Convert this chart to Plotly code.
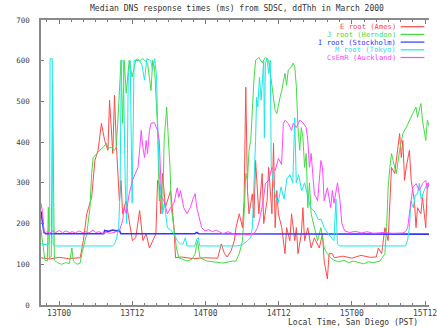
import pandas as pd
import plotly.graph_objects as go

# ---- data (hours after 2000-03-13 00:00 PST, median response ms) ----
e_hours = [-2.97, -1.5, 0.0, 1.5, 3.45, 3.98, 4.53, 5.33, 5.86, 6.39, 6.94, 7.47, 8.00, 8.27, 8.80, 9.08,
           9.35, 9.61, 9.88, 10.15, 10.41, 10.96, 11.49, 12.02, 12.56, 13.20, 13.73, 14.27, 14.81, 15.34,
           15.87, 16.14, 16.42, 16.67, 16.95, 17.43, 18.28, 18.83, 19.08, 20.0, 22.0, 24.0, 26.0, 26.59,
           27.12, 27.55, 28.19, 28.72, 29.00, 29.53, 30.07, 30.33, 30.60, 30.88, 31.13, 31.68, 31.94,
           32.21, 32.48, 32.74, 33.29, 33.54, 34.09, 34.35, 34.89, 35.15, 35.42, 35.69, 35.95, 36.50,
           37.03, 37.30, 37.83, 38.11, 38.63, 38.90, 39.16, 39.71, 39.97, 40.24, 40.77, 41.32, 41.85,
           42.65, 43.18, 43.45, 43.98, 44.26, 44.79, 45.11, 46.5, 48.0, 49.5, 51.0, 52.0, 52.34, 52.88,
           53.41, 53.94, 54.22, 54.49, 55.02, 55.29, 55.82, 56.10, 56.35, 56.63, 56.90, 57.43, 57.72,
           58.25, 58.51, 58.76, 59.31, 59.57, 60.11, 60.37, 60.64]
e_values = [116, 113, 117, 114, 116, 158, 224, 264, 355, 380, 446, 404, 380, 503, 372, 515,
            404, 338, 256, 306, 224, 256, 207, 158, 165, 232, 158, 175, 140, 158,
            175, 306, 298, 224, 323, 240, 281, 190, 116, 118, 114, 116, 115, 150,
            126, 118, 133, 158, 190, 224, 190, 256, 535, 281, 224, 273, 214,
            355, 288, 224, 323, 200, 256, 338, 224, 397, 190, 281, 224, 190,
            126, 190, 158, 224, 158, 190, 126, 175, 239, 158, 190, 140, 165,
            140, 175, 108, 64, 126, 126, 116, 120, 115, 122, 117, 118, 140, 126,
            190, 158, 256, 338, 323, 362, 421, 362, 404, 306, 338, 380, 306,
            256, 190, 239, 224, 264, 190, 298, 300]

j_hours = [-2.97, -2.65, -2.33, -1.93, -1.77, -1.61, -1.29, -1.09, -0.93, -0.77, -0.24, 0.40, 1.04, 1.69,
           2.09, 2.33, 2.97, 3.45, 3.73, 4.10, 4.53, 5.06, 5.33, 5.59, 6.14, 6.67, 7.20, 7.74, 8.11, 8.55,
           9.08, 9.35, 9.61, 9.88, 10.15, 10.41, 10.68, 11.00, 11.49, 11.97, 12.56, 13.25, 13.73, 14.50,
           15.07, 15.34, 15.66, 16.14, 16.42, 16.67, 16.95, 17.22, 17.64, 17.86, 18.18, 18.39, 18.83,
           19.24, 19.63, 20.32, 20.96, 21.77, 22.30, 22.68, 23.10, 24.18, 25.46, 26.86, 28.47, 29.00,
           29.53, 30.07, 30.33, 30.60, 30.88, 31.13, 31.41, 31.68, 31.94, 32.21, 32.74, 33.29, 33.82,
           34.35, 34.62, 34.89, 35.15, 35.42, 35.69, 35.95, 36.22, 36.50, 36.76, 37.03, 37.30, 37.56,
           38.11, 38.37, 38.63, 38.90, 39.16, 39.44, 39.71, 39.97, 40.24, 40.51, 40.77, 41.04, 41.32,
           41.85, 42.38, 42.92, 43.45, 43.98, 44.53, 45.06, 45.86, 46.67, 47.47, 48.27, 49.08, 49.93,
           50.68, 51.49, 52.61, 53.41, 53.69, 53.94, 54.22, 54.49, 54.75, 55.29, 55.82, 56.35, 56.90,
           57.43, 57.96, 58.51, 58.76, 59.31, 59.57, 60.11, 60.37, 60.64]
j_values = [185, 140, 110, 108, 240, 115, 120, 550, 260, 110, 104, 100, 104, 102,
            140, 108, 100, 103, 126, 150, 175, 239, 323, 362, 372, 380, 387, 397, 385, 387,
            380, 387, 446, 520, 601, 446, 601, 520, 601, 560, 601, 600, 605, 594,
            527, 601, 580, 436, 256, 270, 224, 404, 486, 421, 338, 239, 190,
            140, 116, 112, 108, 112, 126, 158, 116, 108, 105, 103, 108, 108,
            126, 158, 224, 323, 306, 380, 404, 486, 552, 601, 608, 595, 608,
            601, 569, 527, 510, 478, 470, 495, 510, 527, 544, 569, 540, 577,
            585, 594, 585, 535, 436, 380, 436, 412, 338, 372, 239, 300, 224,
            190, 158, 190, 140, 126, 116, 110, 106, 110, 104, 108, 104, 101,
            106, 104, 108, 126, 190, 288, 338, 372, 355, 323, 380, 421, 436,
            454, 470, 486, 461, 495, 454, 404, 454, 440]

i_hours = [-2.97, -2.73, -2.49, -2.17, 7.31, 7.47, 8.11, 8.76, 9.40, 9.88, 10.12, 22.25, 22.57, 22.89, 60.64]
i_values = [230, 205, 178, 175, 175, 183, 181, 184, 182, 183, 175, 175, 178, 175, 174]

m_hours = [-2.97, -2.01, -1.57, -1.48, -1.12, -1.00, -0.72, 8.76, 9.08, 9.45, 9.77, 9.99, 10.20, 10.52,
           10.84, 11.08, 11.33, 11.65, 11.97, 12.29, 12.93, 13.57, 14.01, 14.38, 15.02, 15.34, 15.66,
           15.98, 16.14, 16.42, 16.95, 17.27, 17.75, 18.23, 18.83, 19.36, 19.90, 20.32, 20.69, 20.96,
           22.25, 22.57, 22.84, 23.05, 29.00, 30.07, 30.88, 31.41, 31.68, 31.94, 32.21, 32.37, 32.58,
           32.85, 33.12, 33.54, 33.65, 33.82, 34.09, 34.35, 34.62, 34.78, 35.10, 35.42, 35.90, 36.39,
           36.87, 37.35, 37.83, 38.31, 38.63, 38.88, 39.28, 39.76, 40.24, 40.72, 41.20, 41.85, 42.49,
           42.97, 43.45, 44.10, 44.58, 45.06, 45.38, 45.62, 46.02, 56.79, 57.11, 57.43, 57.67, 58.07,
           58.39, 58.76, 59.04, 59.36, 59.84, 60.37, 60.64]
m_values = [150, 148, 150, 605, 605, 150, 145, 145, 150, 165, 190, 281, 600, 600,
            300, 200, 560, 600, 250, 600, 605, 590, 552, 605, 600, 577, 605,
            560, 454, 323, 224, 250, 190, 185, 175, 158, 150, 150, 165, 145,
            145, 162, 165, 145, 145, 148, 158, 165, 190, 281, 404, 510, 486,
            560, 503, 601, 410, 594, 606, 569, 601, 338, 300, 270, 250, 290,
            260, 310, 320, 300, 460, 300, 320, 280, 300, 270, 240, 230, 210,
            210, 190, 175, 165, 158, 260, 150, 145, 145, 158, 190, 256, 239,
            270, 273, 298, 260, 281, 298, 290]

c_hours = [-2.97, -2.73, -2.44, -2.01, -1.53, -1.04, -0.56, 0.08, 0.56, 1.04, 1.69, 2.17, 2.65, 3.29,
           3.78, 4.42, 4.90, 5.54, 6.02, 6.51, 7.15, 7.79, 8.43, 9.08, 9.88, 10.41, 10.68, 11.00, 11.49,
           12.02, 12.56, 12.93, 13.20, 13.45, 13.73, 14.01, 14.27, 14.50, 14.81, 15.07, 15.61, 15.87,
           16.14, 16.42, 16.58, 16.79, 17.22, 17.75, 18.28, 18.83, 19.36, 19.63, 19.90, 20.43, 20.96,
           21.49, 22.04, 22.30, 22.57, 22.84, 23.37, 23.90, 24.50, 25.14, 25.78, 26.86, 27.71, 29.00,
           30.07, 30.92, 31.94, 32.53, 33.01, 33.54, 33.82, 34.35, 34.89, 35.42, 35.95, 36.47, 36.76,
           37.03, 37.56, 38.11, 38.37, 38.90, 39.44, 39.97, 40.51, 40.77, 41.04, 41.32, 41.61, 41.85,
           42.38, 42.92, 43.18, 43.45, 43.98, 44.53, 44.79, 45.06, 45.64, 46.02, 46.35, 46.83, 47.63,
           48.59, 49.55, 50.52, 51.49, 53.09, 54.70, 56.31, 56.79, 57.15, 57.43, 57.72, 57.98, 58.51,
           59.04, 59.57, 60.11, 60.37, 60.64]
c_values = [250, 230, 175, 180, 176, 182, 178, 183, 177, 182, 178, 180, 177, 182,
            178, 180, 177, 184, 178, 180, 176, 178, 176, 178, 182, 207, 239, 225, 273,
            306, 323, 338, 380, 429, 387, 362, 404, 372, 429, 446, 448, 436,
            429, 404, 338, 264, 256, 224, 239, 250, 288, 264, 281, 239, 224,
            239, 264, 273, 239, 224, 190, 182, 185, 180, 184, 175, 180, 172,
            175, 172, 175, 190, 220, 264, 298, 306, 338, 330, 360, 345, 446,
            454, 446, 429, 446, 436, 454, 448, 436, 404, 338, 372, 306, 273,
            256, 355, 338, 256, 288, 239, 281, 250, 300, 260, 200, 182, 178,
            181, 177, 180, 176, 178, 176, 177, 180, 190, 224, 256, 288, 298,
            281, 298, 306, 285, 300]

series = [
    ("E root (Ames)", e_hours, e_values, "#ff4a4a", 1.0),
    ("J root (Herndon)", j_hours, j_values, "#44dc44", 1.0),
    ("I root (Stockholm)", i_hours, i_values, "#3535ff", 1.6),
    ("M root (Tokyo)", m_hours, m_values, "#1ae8e8", 1.0),
    ("CsEmR (Auckland)", c_hours, c_values, "#ff48ff", 1.0),
]

y_ticks = [0, 100, 200, 300, 400, 500, 600, 700]
base = pd.Timestamp("2000-03-13 00:00")
x_start_h, x_end_h = -2.97, 60.64

MONO = "DejaVu Sans Mono"
fig = go.Figure()
for name, hrs, vals, col, w in series:
    t = base + pd.to_timedelta(hrs, unit="h")
    fig.add_trace(go.Scatter(x=t, y=vals, mode="lines", name=name,
                             line=dict(color=col, width=w), showlegend=False))

# legend drawn as text then line sample (gnuplot style)
leg_y = [0.9765, 0.9495, 0.9225, 0.8954, 0.8684]
for (name, hrs, vals, col, w), yy in zip(series, leg_y):
    fig.add_annotation(x=0.918, y=yy, xref="paper", yref="paper", text=name, showarrow=False,
                       xanchor="right", yanchor="middle", borderpad=0,
                       font=dict(family=MONO, size=7.2, color=col))
    fig.add_shape(type="line", xref="paper", yref="paper", x0=0.927, x1=0.988, y0=yy, y1=yy,
                  line=dict(color=col, width=1.2))

fig.add_annotation(x=0.976, y=-0.063, xref="paper", yref="paper", text="Local Time, San Diego (PST)",
                   showarrow=False, xanchor="right", yanchor="middle",
                   font=dict(family=MONO, size=8, color="#333333"))

fig.update_layout(
    width=437, height=328,
    margin=dict(l=41, r=0, t=20, b=23),
    paper_bgcolor="white", plot_bgcolor="white",
    title=dict(text="Median DNS response times (ms) from SDSC, ddThh in March 2000",
               x=0.505, xref="paper", xanchor="center", y=1 - 8 / 328, yref="container",
               yanchor="middle", font=dict(family=MONO, size=8, color="#333333")),
    font=dict(family=MONO, size=8, color="#444444"),
    xaxis=dict(type="date",
               range=[base + pd.Timedelta(hours=x_start_h), base + pd.Timedelta(hours=x_end_h)],
               tick0=base, dtick=12 * 3600 * 1000, tickformat="%dT%H",
               ticks="inside", ticklen=4, tickcolor="#777777", tickwidth=1,
               minor=dict(dtick=2 * 3600 * 1000, ticks="inside", ticklen=2, tickcolor="#777777"),
               showline=True, linecolor="#8a8a8a", linewidth=1.5, mirror="ticks",
               showgrid=False, zeroline=False, ticklabeloverflow="allow",
               tickfont=dict(family=MONO, size=8, color="#444444")),
    yaxis=dict(range=[0, 700], tickvals=y_ticks, ticktext=[str(v) for v in y_ticks],
               ticks="inside", ticklen=3, tickcolor="#777777",
               showline=True, linecolor="#8a8a8a", linewidth=1.5, mirror=False,
               showgrid=False, zeroline=False, ticklabelstandoff=8,
               tickfont=dict(family=MONO, size=7.5, color="#444444")),
)

fig.write_html("out.html", config={"displayModeBar": False},
               post_script="document.body.style.margin='0';document.body.style.overflow='hidden';")
